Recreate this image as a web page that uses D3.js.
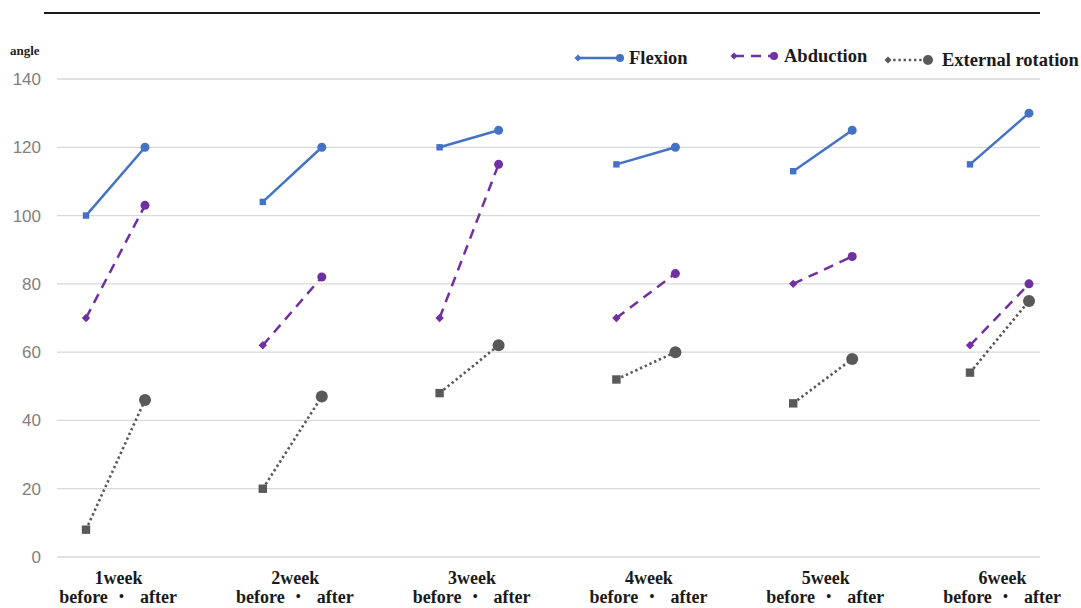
<!DOCTYPE html>
<html>
<head>
<meta charset="utf-8">
<script src="https://cdn.jsdelivr.net/npm/d3@7"></script>
<style>
html,body{margin:0;padding:0;background:#fff;}
svg{display:block;}
</style>
</head>
<body>
<svg id="chart" width="1081" height="608"></svg>
<script>
const weeks = ["1week","2week","3week","4week","5week","6week"];
const phases = ["before","after"];
const yTicks = [0,20,40,60,80,100,120,140];
const flexionBefore = [100,104,120,115,113,115];
const flexionAfter  = [120,120,125,120,125,130];
const abductionBefore = [70,62,70,70,80,62];
const abductionAfter  = [103,82,115,83,88,80];
const extRotBefore = [8,20,48,52,45,54];
const extRotAfter  = [46,47,62,60,58,75];
const seriesNames = ["Flexion","Abduction","External rotation"];

const series = [
  {name: seriesNames[0], before: flexionBefore, after: flexionAfter, color:"#4472C4", dash:null, cap:"butt", bSize:3.2, aR:4.5, bShape:"square", w:2.5},
  {name: seriesNames[1], before: abductionBefore, after: abductionAfter, color:"#7030A0", dash:"10,7", cap:"butt", bSize:3.2, aR:4.5, bShape:"diamond", w:2.5},
  {name: seriesNames[2], before: extRotBefore, after: extRotAfter, color:"#595959", dash:"2.4,2.8", cap:"butt", bSize:4.2, aR:6, bShape:"square", w:2.6}
];

const serif = "Liberation Serif, Times New Roman, serif";
const svg = d3.select("#chart");
const y = d3.scaleLinear().domain([0,140]).range([557,79]);
const x = d3.scalePoint().domain(weeks).range([115.5,999.5]);
const xi = d3.scalePoint().domain(phases).range([-29.5,29.5]);

// top rule
svg.append("line").attr("x1",44).attr("x2",1040).attr("y1",13).attr("y2",13)
  .attr("stroke","#1a1a1a").attr("stroke-width",2);

// gridlines
svg.append("g").selectAll("line").data(yTicks).join("line")
  .attr("x1",57).attr("x2",1040)
  .attr("y1",d=>y(d)).attr("y2",d=>y(d))
  .attr("stroke","#d9d9d9").attr("stroke-width",1.3);

// y axis labels
const yAxis = d3.axisLeft(y).tickValues(yTicks).tickSize(0).tickPadding(0);
const yg = svg.append("g").attr("transform","translate(41,0)").call(yAxis);
yg.select(".domain").remove();
yg.selectAll("text").attr("font-family","Liberation Sans, Arial, sans-serif").attr("font-size",17).attr("fill","#808080");

svg.append("text").attr("x",10).attr("y",55).text("angle")
  .attr("font-family",serif).attr("font-weight","bold").attr("font-size",13).attr("fill","#222");

function beforeMarker(g, s, cx, cy){
  if(s.bShape==="square"){
    g.append("rect").attr("x",cx-s.bSize).attr("y",cy-s.bSize).attr("width",2*s.bSize).attr("height",2*s.bSize).attr("fill",s.color);
  } else {
    const r = s.bSize+1;
    g.append("path").attr("d",`M${cx-r},${cy}L${cx},${cy-r}L${cx+r},${cy}L${cx},${cy+r}Z`).attr("fill",s.color);
  }
}

// data lines
series.forEach(s=>{
  const g = svg.append("g");
  weeks.forEach((w,i)=>{
    const pts = [[x(w)+xi("before"), y(s.before[i])],[x(w)+xi("after"), y(s.after[i])]];
    g.append("path").attr("d",d3.line()(pts)).attr("fill","none")
      .attr("stroke",s.color).attr("stroke-width",s.w)
      .attr("stroke-dasharray",s.dash).attr("stroke-linecap",s.cap);
    beforeMarker(g,s,pts[0][0],pts[0][1]);
    g.append("circle").attr("cx",pts[1][0]).attr("cy",pts[1][1]).attr("r",s.aR).attr("fill",s.color);
  });
});

// legend
const legendPos = [{x1:578,x2:620,tx:629,ty:64},{x1:734,x2:774,tx:784,ty:62},{x1:888,x2:928,tx:942,ty:66}];
series.forEach((s,i)=>{
  const p = legendPos[i];
  const ly = p.ty-6;
  const g = svg.append("g");
  g.append("line").attr("x1",p.x1).attr("x2",p.x2).attr("y1",ly).attr("y2",ly)
    .attr("stroke",s.color).attr("stroke-width",2.5).attr("stroke-dasharray",s.dash).attr("stroke-linecap",s.cap);
  const r=3.5;
  g.append("path").attr("d",`M${p.x1-r},${ly}L${p.x1},${ly-r}L${p.x1+r},${ly}L${p.x1},${ly+r}Z`).attr("fill",s.color);
  g.append("circle").attr("cx",p.x2).attr("cy",ly).attr("r",i===2?5:4).attr("fill",s.color);
  g.append("text").attr("x",p.tx).attr("y",p.ty).text(s.name)
    .attr("font-family",serif).attr("font-weight","bold").attr("font-size",18.5).attr("fill","#1a1a1a");
});

// x labels
const xg = svg.append("g").attr("font-family",serif).attr("font-weight","bold").attr("font-size",18).attr("fill","#1a1a1a").attr("text-anchor","middle");
weeks.forEach(w=>{
  xg.append("text").attr("x",x(w)+3).attr("y",584).text(w);
  xg.append("text").attr("x",x(w)-32).attr("y",603).text(phases[0]);
  xg.append("text").attr("x",x(w)+6).attr("y",601).attr("font-size",14).text("\u2022");
  xg.append("text").attr("x",x(w)+43).attr("y",603).text(phases[1]);
});
</script>
</body>
</html>
